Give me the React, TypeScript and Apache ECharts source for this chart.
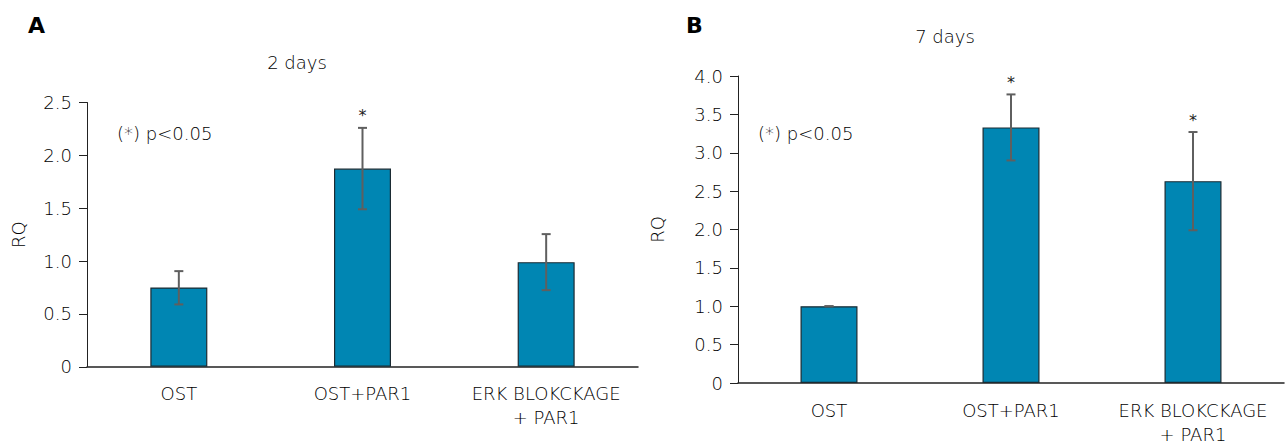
import React, { useEffect, useRef } from "react";
import * as echarts from "echarts";

const categories = ["OST", "OST+PAR1", "ERK BLOKCKAGE\n+ PAR1"];
const yTicks2 = [0, 0.5, 1.0, 1.5, 2.0, 2.5];
const yTicks7 = [0, 0.5, 1.0, 1.5, 2.0, 2.5, 3.0, 3.5, 4.0];

const rq2 = [0.75, 1.875, 0.99];
const err2Low = [0.59, 1.49, 0.725];
const err2High = [0.905, 2.26, 1.255];
const sig2 = [false, true, false];

const rq7 = [1.0, 3.33, 2.63];
const err7Low = [1.0, 2.9, 1.99];
const err7High = [1.0, 3.76, 3.27];
const sig7 = [false, true, true];

const FONT = "'DejaVu Sans'";
const FW = 200;
const FS = 18;
const TEXT = "#000";
const BAR = "#0086b3";

function errData(low: number[], high: number[], sig: boolean[]) {
  return low.map((l, i) => [i, l, high[i], sig[i] ? 1 : 0]);
}

function renderErr(params: any, api: any) {
  const i = api.value(0);
  const lo = api.coord([i, api.value(1)]);
  const hi = api.coord([i, api.value(2)]);
  const x = lo[0];
  const cap = 4.5;
  const style = { stroke: "#5f5f5f", lineWidth: 2 };
  const children: any[] = [
    { type: "line", shape: { x1: x, y1: lo[1], x2: x, y2: hi[1] }, style },
    { type: "line", shape: { x1: x - cap, y1: hi[1], x2: x + cap, y2: hi[1] }, style },
    { type: "line", shape: { x1: x - cap, y1: lo[1], x2: x + cap, y2: lo[1] }, style },
  ];
  if (api.value(3) === 1) {
    children.push({
      type: "text",
      x: x,
      y: hi[1] - 12,
      style: {
        text: "*",
        fill: "#222",
        font: `16px ${FONT}`,
        textAlign: "center",
        textVerticalAlign: "middle",
      },
    });
  }
  return { type: "group", children };
}

function yAxisCfg(gridIndex: number, max: number, nameGap: number) {
  return {
    type: "value",
    gridIndex,
    min: 0,
    max,
    interval: 0.5,
    name: "RQ",
    nameLocation: "middle",
    nameRotate: 90,
    nameGap,
    nameTextStyle: { fontFamily: FONT, fontWeight: FW, fontSize: FS, color: TEXT },
    axisLine: { show: true, lineStyle: { color: "#222", width: 1 } },
    axisTick: { show: true, length: 8, lineStyle: { color: "#222" } },
    splitLine: { show: false },
    axisLabel: {
      fontFamily: FONT,
      fontWeight: FW,
      fontSize: FS,
      color: TEXT,
      margin: 15,
      formatter: (v: number) => (v === 0 ? "0" : v.toFixed(1)),
    },
  };
}

function xAxisCfg(gridIndex: number) {
  return {
    type: "category",
    gridIndex,
    data: categories,
    axisLine: { show: true, lineStyle: { color: "#222", width: 1.5 } },
    axisTick: { show: false },
    axisLabel: {
      fontFamily: FONT,
      fontWeight: FW,
      fontSize: FS,
      color: TEXT,
      margin: 15,
      lineHeight: 24,
      interval: 0,
    },
  };
}

export default function App() {
  const ref = useRef<HTMLDivElement>(null);
  useEffect(() => {
    if (!ref.current) return;
    const chart = echarts.init(ref.current, undefined, { renderer: "svg" });
    const barStyle = { color: BAR, borderColor: "#1b2b33", borderWidth: 1.2 };
    const txt = (x: number, y: number, text: string, align: string) => ({
      type: "text",
      x,
      y,
      style: { text, font: `${FW} ${FS}px ${FONT}`, fill: TEXT, textAlign: align, textVerticalAlign: "middle" },
    });
    chart.setOption({
      animation: false,
      backgroundColor: "#fff",
      grid: [
        { left: 87, top: 102.5, width: 551, height: 264.3 },
        { left: 738, top: 76, width: 546, height: 309 },
      ],
      xAxis: [xAxisCfg(0), xAxisCfg(1)],
      yAxis: [yAxisCfg(0, yTicks2[yTicks2.length - 1], 60), yAxisCfg(1, yTicks7[yTicks7.length - 1], 72)],
      series: [
        { type: "bar", xAxisIndex: 0, yAxisIndex: 0, data: rq2, barWidth: 57, itemStyle: barStyle },
        { type: "bar", xAxisIndex: 1, yAxisIndex: 1, data: rq7, barWidth: 57, itemStyle: barStyle },
        {
          type: "custom",
          xAxisIndex: 0,
          yAxisIndex: 0,
          data: errData(err2Low, err2High, sig2),
          encode: { x: 0, y: [1, 2] },
          renderItem: renderErr,
          z: 10,
        },
        {
          type: "custom",
          xAxisIndex: 1,
          yAxisIndex: 1,
          data: errData(err7Low, err7High, sig7),
          encode: { x: 0, y: [1, 2] },
          renderItem: renderErr,
          z: 10,
        },
      ],
      graphic: [
        { type: "text", x: 28, y: 25, style: { text: "A", font: `bold 22px ${FONT}`, fill: "#000", textVerticalAlign: "middle" } },
        { type: "text", x: 686, y: 25, style: { text: "B", font: `bold 22px ${FONT}`, fill: "#000", textVerticalAlign: "middle" } },
        txt(297, 62, "2 days", "center"),
        txt(945, 36, "7 days", "center"),
        txt(117, 133, "(*) p<0.05", "left"),
        txt(758, 133, "(*) p<0.05", "left"),
      ],
    });
    return () => chart.dispose();
  }, []);
  return (
    <div
      ref={ref}
      style={{ position: "fixed", left: 0, top: 0, width: 1285, height: 446 }}
    />
  );
}
